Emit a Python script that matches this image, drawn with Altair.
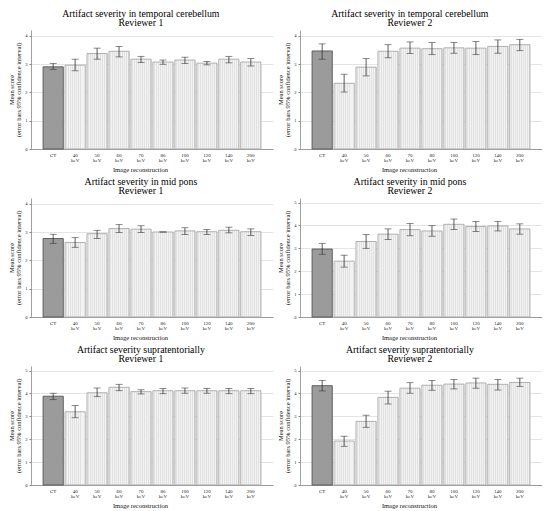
import altair as alt
import pandas as pd

categories = ["CT", "40 keV", "50 keV", "60 keV", "70 keV", "80 keV",
              "100 keV", "120 keV", "140 keV", "200 keV"]
kinds = ["CT"] + ["keV"] * 9

titles = [
    ["Artifact severity in temporal cerebellum", "Reviewer 1"],
    ["Artifact severity in temporal cerebellum", "Reviewer 2"],
    ["Artifact severity in mid pons", "Reviewer 1"],
    ["Artifact severity in mid pons", "Reviewer 2"],
    ["Artifact severity supratentorially", "Reviewer 1"],
    ["Artifact severity supratentorially", "Reviewer 2"],
]

tc_r1_mean = [2.90, 2.96, 3.37, 3.45, 3.17, 3.07, 3.14, 3.03, 3.17, 3.07]
tc_r1_lo = [2.81, 2.76, 3.17, 3.25, 3.05, 2.99, 3.02, 2.97, 3.04, 2.93]
tc_r1_hi = [3.02, 3.17, 3.56, 3.62, 3.27, 3.14, 3.24, 3.09, 3.27, 3.19]

tc_r2_mean = [3.46, 2.32, 2.89, 3.45, 3.56, 3.54, 3.57, 3.56, 3.62, 3.68]
tc_r2_lo = [3.17, 2.01, 2.58, 3.22, 3.37, 3.33, 3.38, 3.33, 3.38, 3.47]
tc_r2_hi = [3.71, 2.64, 3.19, 3.68, 3.78, 3.76, 3.76, 3.79, 3.85, 3.87]

mp_r1_mean = [2.77, 2.63, 2.94, 3.12, 3.10, 3.00, 3.04, 3.01, 3.06, 3.01]
mp_r1_lo = [2.60, 2.46, 2.77, 2.98, 2.98, 3.00, 2.91, 2.91, 2.97, 2.88]
mp_r1_hi = [2.92, 2.80, 3.06, 3.26, 3.22, 3.00, 3.15, 3.09, 3.17, 3.11]

mp_r2_mean = [2.97, 2.44, 3.30, 3.62, 3.82, 3.76, 4.05, 3.95, 3.98, 3.85]
mp_r2_lo = [2.74, 2.18, 3.00, 3.39, 3.55, 3.53, 3.82, 3.74, 3.76, 3.62]
mp_r2_hi = [3.22, 2.70, 3.61, 3.85, 4.08, 3.99, 4.28, 4.17, 4.18, 4.07]

st_r1_mean = [3.88, 3.20, 4.03, 4.27, 4.08, 4.12, 4.12, 4.12, 4.12, 4.12]
st_r1_lo = [3.73, 2.94, 3.86, 4.12, 3.98, 3.99, 4.01, 4.01, 3.99, 3.99]
st_r1_hi = [4.01, 3.47, 4.24, 4.40, 4.16, 4.22, 4.24, 4.22, 4.22, 4.22]

st_r2_mean = [4.34, 1.92, 2.78, 3.83, 4.23, 4.36, 4.41, 4.46, 4.40, 4.48]
st_r2_lo = [4.11, 1.69, 2.52, 3.54, 4.01, 4.14, 4.20, 4.23, 4.15, 4.31]
st_r2_hi = [4.57, 2.13, 3.05, 4.10, 4.47, 4.57, 4.61, 4.67, 4.61, 4.67]

ticks4 = [0, 1, 2, 3, 4]
ticks5 = [0, 1, 2, 3, 4, 5]

FONT = "Liberation Serif"
W, H = 242, 119

# faint striped light fill
stops = []
n = 10
for i in range(n):
    stops.append(alt.GradientStop(offset=i / n, color="#f3f3f3"))
    stops.append(alt.GradientStop(offset=(i + 0.65) / n, color="#f3f3f3"))
    stops.append(alt.GradientStop(offset=(i + 0.65) / n, color="#e1e1e1"))
    stops.append(alt.GradientStop(offset=(i + 1) / n, color="#e1e1e1"))
stripe = alt.LinearGradient(gradient="linear", stops=stops, x1=0, x2=1, y1=0, y2=0)


def panel(title, mean, lo, hi, ymax, ticks):
    df = pd.DataFrame({"cat": categories, "mean": mean, "lo": lo, "hi": hi, "kind": kinds})
    xaxis = alt.Axis(title="Image reconstruction", labelAngle=0,
                     labelExpr="split(datum.label, ' ')",
                     ticks=False, labelPadding=3, titlePadding=4,
                     labelFontSize=5, labelLineHeight=5.5,
                     titleX=W * 0.45)
    xscale = alt.Scale(paddingInner=0.08, paddingOuter=0.55)
    yaxis = alt.Axis(values=ticks, format="d", tickCount=len(ticks),
                     title=["Mean score", "(error bars 95% confidence interval)"],
                     labelFontSize=4.5, tickSize=2, labelPadding=2,
                     titlePadding=3, grid=True)
    yscale = alt.Scale(domain=[0, ymax], nice=False, zero=True)

    def X():
        return alt.X("cat:N", sort=categories, scale=xscale, axis=xaxis)

    def Y(f):
        return alt.Y(f + ":Q", scale=yscale, axis=yaxis)

    base = alt.Chart(df)
    ct = base.transform_filter(alt.datum.kind == "CT").mark_bar(
        fill="#9b9b9b", stroke="#555555", strokeWidth=0.9).encode(x=X(), y=Y("mean"))
    kev = base.transform_filter(alt.datum.kind == "keV").mark_bar(
        fill=stripe, stroke="#a8a8a8", strokeWidth=0.9).encode(x=X(), y=Y("mean"))
    rule = base.mark_rule(color="#333333", strokeWidth=0.8).encode(
        x=X(), y=Y("lo"), y2="hi:Q")
    cap_lo = base.mark_tick(color="#333333", thickness=0.8, size=7).encode(
        x=X(), y=Y("lo"))
    cap_hi = base.mark_tick(color="#333333", thickness=0.8, size=7).encode(
        x=X(), y=Y("hi"))
    return alt.layer(ct, kev, rule, cap_lo, cap_hi).properties(
        width=W, height=H,
        title=alt.TitleParams(title, frame="bounds", anchor="middle", fontSize=9.8,
                              lineHeight=9.5, fontWeight="normal", font=FONT,
                              color="black", offset=2))


p1 = panel(titles[0], tc_r1_mean, tc_r1_lo, tc_r1_hi, 4.2, ticks4)
p2 = panel(titles[1], tc_r2_mean, tc_r2_lo, tc_r2_hi, 4.2, ticks4)
p3 = panel(titles[2], mp_r1_mean, mp_r1_lo, mp_r1_hi, 4.2, ticks4)
p4 = panel(titles[3], mp_r2_mean, mp_r2_lo, mp_r2_hi, 5.2, ticks5)
p5 = panel(titles[4], st_r1_mean, st_r1_lo, st_r1_hi, 5.2, ticks5)
p6 = panel(titles[5], st_r2_mean, st_r2_lo, st_r2_hi, 5.2, ticks5)

chart = alt.vconcat(
    alt.hconcat(p1, p2, spacing=4),
    alt.hconcat(p3, p4, spacing=4),
    alt.hconcat(p5, p6, spacing=4),
    spacing=3,
).properties(padding=0).configure_view(stroke=None).configure_axis(
    labelFont=FONT, titleFont=FONT, titleFontWeight="normal", titleFontSize=6.5,
    titleLineHeight=7, labelColor="#222222", titleColor="#111111",
    domainColor="#888888", tickColor="#888888", gridColor="#d9d9d9", gridWidth=0.7,
    domainWidth=0.8,
)

chart.save("out.html", embed_options={"renderer": "svg", "actions": False})
